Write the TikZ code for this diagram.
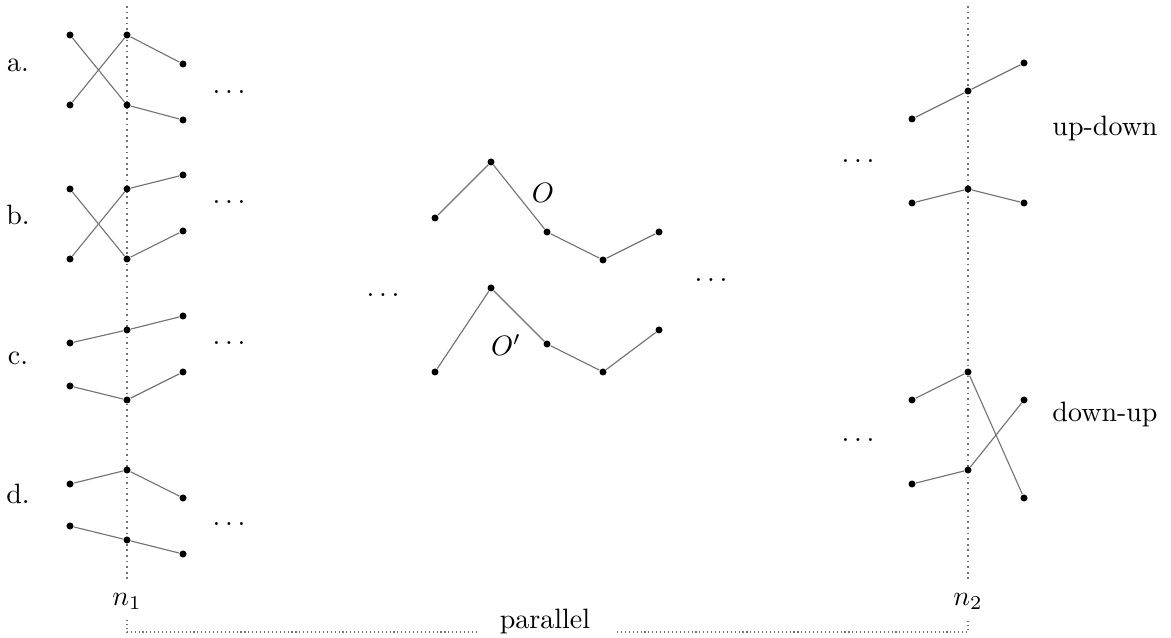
\documentclass[tikz,border=0pt]{standalone}
\begin{document}
\begin{tikzpicture}[x=0.357pt,y=-0.357pt,
  pt/.style={circle,fill=black,inner sep=0pt,minimum size=2.5pt},
  seg/.style={draw=black!55,line width=0.4pt},
  guide/.style={draw=black!55,dash pattern=on 0.6pt off 1.4pt,line width=0.6pt},
  brk/.style={draw=black!55,densely dotted,line width=0.4pt},
  dts/.style={anchor=base,inner sep=0pt},
  lbl/.style={anchor=base,inner sep=0pt}]
\useasboundingbox (0,0) rectangle (1171,638);
% guide lines
\coordinate (g1t) at (127,6);
\coordinate (g1b) at (127,582);
\coordinate (g2t) at (968,6);
\coordinate (g2b) at (968,582);
\draw[guide] (g1t) -- (g1b);
\draw[guide] (g2t) -- (g2b);
% labels
\node[lbl] (la) at (18,72) {a.};
\node[lbl] (lb) at (18,225) {b.};
\node[lbl] (lc) at (18,365) {c.};
\node[lbl] (ld) at (18,503) {d.};
\node[lbl] (n1) at (127,605) {$n_1$};
\node[lbl] (n2) at (968,605) {$n_2$};
\node[lbl] (ud) at (1105,136) {up-down};
\node[lbl] (du) at (1105,422) {down-up};
\node[lbl] (lO) at (543,203) {$O$};
\node[lbl] (lOp) at (506,356) {$O'$};
% bracket
\node[lbl,inner xsep=21pt] (par) at (545,628) {parallel};
\coordinate (b1t) at (127,620);
\coordinate (b1c) at (127,632);
\coordinate (b2t) at (968,620);
\coordinate (b2c) at (968,632);
\coordinate (pl) at (478,632);
\coordinate (pr) at (617,632);
\draw[brk] (b1t) -- (b1c) -- (pl);
\draw[brk] (pr) -- (b2c) -- (b2t);
% ellipses
\node[dts] (e1) at (229,93.5) {$\ldots$};
\node[dts] (e2) at (229,203.5) {$\ldots$};
\node[dts] (e3) at (229,344.5) {$\ldots$};
\node[dts] (e4) at (229,525.5) {$\ldots$};
\node[dts] (e5) at (383,296.5) {$\ldots$};
\node[dts] (e6) at (711,281.5) {$\ldots$};
\node[dts] (e7) at (858,162.5) {$\ldots$};
\node[dts] (e8) at (858,441.5) {$\ldots$};
% points
\node[pt] (aL1) at (70,35) {};
\node[pt] (aL2) at (70,105) {};
\node[pt] (aM1) at (127,35) {};
\node[pt] (aM2) at (127,105) {};
\node[pt] (aR1) at (183,64) {};
\node[pt] (aR2) at (183,120) {};
\node[pt] (bL1) at (70,189) {};
\node[pt] (bL2) at (70,259) {};
\node[pt] (bM1) at (127,189) {};
\node[pt] (bM2) at (127,259) {};
\node[pt] (bR1) at (183,175) {};
\node[pt] (bR2) at (183,231) {};
\node[pt] (cL1) at (70,343) {};
\node[pt] (cM1) at (127,330) {};
\node[pt] (cR1) at (183,316) {};
\node[pt] (cL2) at (70,386) {};
\node[pt] (cM2) at (127,400) {};
\node[pt] (cR2) at (183,372) {};
\node[pt] (dL1) at (70,484) {};
\node[pt] (dM1) at (127,470) {};
\node[pt] (dR1) at (183,498) {};
\node[pt] (dL2) at (70,526) {};
\node[pt] (dM2) at (127,540) {};
\node[pt] (dR2) at (183,554) {};
\node[pt] (o1) at (435,218) {};
\node[pt] (o2) at (491,162) {};
\node[pt] (o3) at (547,232) {};
\node[pt] (o4) at (603,260) {};
\node[pt] (o5) at (659,232) {};
\node[pt] (p1) at (435,372) {};
\node[pt] (p2) at (491,288) {};
\node[pt] (p3) at (547,344) {};
\node[pt] (p4) at (603,372) {};
\node[pt] (p5) at (659,330) {};
\node[pt] (u1) at (912,119) {};
\node[pt] (u2) at (968,91) {};
\node[pt] (u3) at (1024,63) {};
\node[pt] (v1) at (912,203) {};
\node[pt] (v2) at (968,189) {};
\node[pt] (v3) at (1024,203) {};
\node[pt] (w1) at (912,400) {};
\node[pt] (w2) at (968,372) {};
\node[pt] (w3) at (1024,498) {};
\node[pt] (z1) at (912,484) {};
\node[pt] (z2) at (968,470) {};
\node[pt] (z3) at (1024,400) {};
% segments
\draw[seg] (aL1) -- (aM2) -- (aR2);
\draw[seg] (aL2) -- (aM1) -- (aR1);
\draw[seg] (bL1) -- (bM2) -- (bR2);
\draw[seg] (bL2) -- (bM1) -- (bR1);
\draw[seg] (cL1) -- (cM1) -- (cR1);
\draw[seg] (cL2) -- (cM2) -- (cR2);
\draw[seg] (dL1) -- (dM1) -- (dR1);
\draw[seg] (dL2) -- (dM2) -- (dR2);
\draw[seg] (o1) -- (o2) -- (o3) -- (o4) -- (o5);
\draw[seg] (p1) -- (p2) -- (p3) -- (p4) -- (p5);
\draw[seg] (u1) -- (u2) -- (u3);
\draw[seg] (v1) -- (v2) -- (v3);
\draw[seg] (w1) -- (w2) -- (w3);
\draw[seg] (z1) -- (z2) -- (z3);
\end{tikzpicture}
\end{document}
